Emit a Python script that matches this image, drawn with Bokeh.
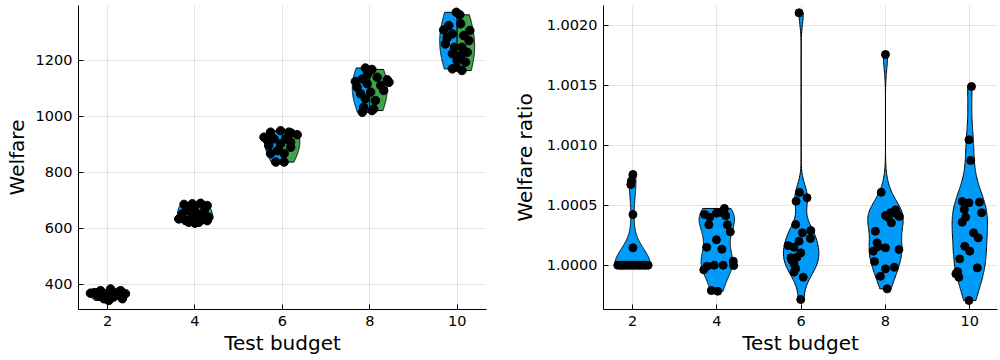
import numpy as np
from bokeh.plotting import figure
from bokeh.layouts import row
from bokeh.models import Range1d, FixedTicker, NumeralTickFormatter
from bokeh.embed import file_html
from bokeh.resources import INLINE

# ---------------- data ----------------
budgets = [2, 4, 6, 8, 10]
x_ticks = [2, 4, 6, 8, 10]
welfare_ticks = [400, 600, 800, 1000, 1200]
ratio_ticks = [1.0, 1.0005, 1.0010, 1.0015, 1.0020]

# Left panel: welfare, two series per budget (blue = left half, green = right half)
welfare_blue = [
    [368, 377, 348, 366, 360, 370, 358, 342],
    [685, 687, 633, 663, 621, 651, 669, 627, 639],
    [948, 943, 925, 919, 895, 866, 836, 913, 877, 901],
    [1172, 1124, 1133, 1116, 1080, 1062, 1032, 1014, 1103, 1139],
    [1371, 1308, 1294, 1246, 1223, 1199, 1169, 1280, 1258, 1330],
]
welfare_blue_jitter = [
    [-0.39, -0.16, -0.08, -0.05, -0.24, -0.30, -0.14, 0.03],
    [-0.25, -0.06, -0.37, -0.17, -0.14, -0.29, -0.02, -0.21, -0.06],
    [-0.04, -0.27, -0.42, -0.19, -0.31, -0.27, -0.15, -0.34, -0.11, -0.04],
    [-0.10, -0.33, -0.17, -0.06, -0.21, -0.10, -0.14, -0.17, -0.29, 0.17],
    [-0.02, -0.31, -0.11, -0.06, -0.11, 0.00, -0.11, -0.23, -0.27, 0.08],
]
welfare_green = [
    [383, 377, 366, 354, 366, 348, 372, 362, 347],
    [689, 681, 651, 639, 621, 627, 661, 639, 618],
    [940, 934, 919, 889, 866, 836, 907, 943],
    [1167, 1130, 1110, 1086, 1092, 1056, 1026, 1020, 1121, 1150],
    [1362, 1324, 1306, 1288, 1246, 1228, 1217, 1193, 1163, 1175, 1270],
]
welfare_green_jitter = [
    [0.07, 0.30, 0.41, 0.14, 0.22, 0.34, 0.25, 0.11, -0.02],
    [0.13, 0.28, 0.05, 0.32, 0.09, 0.28, 0.21, 0.17, 0.00],
    [0.20, 0.34, 0.08, 0.19, 0.04, 0.04, 0.19, 0.15],
    [0.05, 0.40, 0.25, 0.02, 0.32, 0.13, 0.09, 0.05, 0.44, -0.05],
    [0.06, -0.19, 0.29, 0.15, 0.11, 0.23, 0.08, 0.19, 0.11, -0.02, 0.27],
]

# Right panel: welfare ratio per budget
ratio = [
    [1.000756, 1.000700, 1.000672, 1.000422, 1.000145,
     1.0, 1.0, 1.0, 1.0, 1.0, 1.0, 1.0, 1.0, 1.0, 1.0, 1.0, 1.0, 1.0, 1.0, 1.0],
    [1.000423, 1.000400, 1.000337, 1.000433, 1.000439, 1.000473, 1.000412, 1.000337,
     1.000278, 1.000212, 1.000150, 1.000133, 1.000033, 0.999997, 1.000000, 1.000000,
     0.999992, 0.999962, 0.999789, 0.999783],
    [1.002103, 1.000606, 1.000533, 1.000562, 1.000339, 1.000270, 1.000289, 1.000223,
     1.000200, 1.000164, 1.000150, 1.000103, 1.000062, 1.000067, 1.000012, 0.999942,
     0.999900, 0.999714, 1.000042, 0.999972],
    [1.001756, 1.000608, 1.000283, 1.000414, 1.000437, 1.000462, 1.000406, 1.000353,
     1.000187, 1.000117, 1.000145, 1.000131, 1.000031, 0.999970, 0.999983, 0.999908,
     0.999803, 1.000397, 1.000156, 1.000423],
    [1.001489, 1.001045, 1.000873, 1.000531, 1.000520, 1.000525, 1.000464, 1.000437,
     1.000400, 1.000358, 1.000270, 1.000228, 1.000158, 1.000117, 1.000053, 0.999978,
     0.999928, 0.999900, 0.999706, 0.999947],
]
ratio_jitter = [
    [0.01, -0.03, -0.04, 0.01, 0.01,
     -0.35, -0.29, -0.25, -0.19, -0.14, -0.10, -0.04, 0.01, 0.06, 0.12, 0.16, 0.21, 0.27, 0.31, 0.37],
    [-0.29, -0.17, -0.19, -0.01, 0.12, 0.18, 0.21, 0.25, 0.32, -0.01, -0.24, 0.12,
     0.39, 0.40, 0.15, -0.06, -0.23, -0.31, -0.13, 0.02],
    [-0.05, -0.04, -0.12, 0.14, -0.13, 0.03, 0.23, 0.22, -0.05, -0.31, -0.17, -0.01,
     -0.24, -0.10, -0.17, -0.17, 0.05, -0.01, -0.22, -0.13],
    [0.00, -0.10, -0.24, 0.00, 0.12, 0.24, 0.33, 0.14, -0.20, -0.29, 0.00, 0.32,
     -0.26, 0.00, 0.21, -0.12, 0.04, 0.07, -0.17, 0.28],
    [0.04, -0.02, 0.02, -0.18, -0.02, 0.23, -0.13, 0.28, -0.10, -0.18, 0.09, 0.20,
     -0.12, 0.00, -0.24, 0.18, -0.33, -0.26, -0.02, -0.29],
]

BLUE = "#009AF9"
GREEN = "#3DA44D"
FONT = "DejaVu Sans"


# ---------------- helpers ----------------
def silverman(v):
    v = np.asarray(v, float)
    n = len(v)
    sd = np.std(v, ddof=1)
    q25, q75 = np.percentile(v, [25, 75])
    w = min(sd, (q75 - q25) / 1.34)
    if w < 0.3 * sd:
        w = sd
    return 0.9 * w * n ** (-0.2)


def profile(v, bw, npts=200):
    v = np.asarray(v, float)
    grid = np.linspace(v.min(), v.max(), npts)
    dens = np.exp(-0.5 * ((grid[:, None] - v[None, :]) / bw) ** 2).sum(axis=1)
    return grid, dens / dens.max()


def style(p, xlabel, ylabel, ylab_standoff):
    p.outline_line_color = None
    p.background_fill_color = "white"
    p.border_fill_color = "white"
    for ax in (p.xaxis[0], p.yaxis[0]):
        ax.axis_line_color = "black"
        ax.axis_line_width = 1
        ax.major_tick_in = 5
        ax.major_tick_out = 0
        ax.minor_tick_line_color = None
        ax.major_tick_line_color = "black"
        ax.major_label_text_font = FONT
        ax.major_label_text_font_size = "14.5px"
        ax.major_label_text_color = "black"
        ax.axis_label_text_font = FONT
        ax.axis_label_text_font_size = "20px"
        ax.axis_label_text_font_style = "normal"
        ax.axis_label_text_color = "black"
    p.xaxis.major_label_standoff = 6
    p.xaxis.axis_label_standoff = 2
    p.yaxis.major_label_standoff = 6
    p.yaxis.axis_label_standoff = ylab_standoff
    p.xaxis.axis_label = xlabel
    p.yaxis.axis_label = ylabel
    p.xaxis.ticker = FixedTicker(ticks=x_ticks)
    for g in (p.xgrid[0], p.ygrid[0]):
        g.grid_line_color = "black"
        g.grid_line_alpha = 0.1
        g.grid_line_width = 1


# ---------------- left panel ----------------
left = figure(width=498, height=358, output_backend="svg", toolbar_location=None,
              x_range=Range1d(1.336, 10.671), y_range=Range1d(309.6, 1395.3),
              min_border_left=78, min_border_right=12, min_border_top=5, min_border_bottom=49)
style(left, "Test budget", "Welfare", 4)
left.yaxis.ticker = FixedTicker(ticks=welfare_ticks)

HALF_L = 0.40
bxs, bys, gxs, gys = [], [], [], []
for c, va, vb in zip(budgets, welfare_blue, welfare_green):
    g, d = profile(va, 1.8 * np.std(va, ddof=1))
    w = HALF_L * d
    bxs.append(list(c - w) + [c, c])
    bys.append(list(g) + [g[-1], g[0]])
    g, d = profile(vb, 1.8 * np.std(vb, ddof=1))
    w = HALF_L * d
    gxs.append(list(c + w) + [c, c])
    gys.append(list(g) + [g[-1], g[0]])
left.patches(bxs, bys, fill_color=BLUE, line_color="black", line_width=1)
left.patches(gxs, gys, fill_color=GREEN, line_color="black", line_width=1)

dx, dy = [], []
for c, va, ja, vb, jb in zip(budgets, welfare_blue, welfare_blue_jitter,
                             welfare_green, welfare_green_jitter):
    dx += [c + j for j in ja] + [c + j for j in jb]
    dy += list(va) + list(vb)
left.scatter(dx, dy, size=8.5, fill_color="black", line_color="black")

# ---------------- right panel ----------------
right = figure(width=502, height=358, output_backend="svg", toolbar_location=None,
               x_range=Range1d(1.312, 10.657), y_range=Range1d(0.999631, 1.0021642),
               min_border_left=105, min_border_right=3, min_border_top=5, min_border_bottom=49)
style(right, "Test budget", "Welfare ratio", 7)
right.yaxis.ticker = FixedTicker(ticks=ratio_ticks)
right.yaxis.formatter = NumeralTickFormatter(format="0.0000")

HALF_R = 0.42
vxs, vys = [], []
for c, v in zip(budgets, ratio):
    g, d = profile(v, silverman(v))
    w = HALF_R * d
    vxs.append(list(c - w) + list((c + w)[::-1]))
    vys.append(list(g) + list(g[::-1]))
right.patches(vxs, vys, fill_color=BLUE, line_color="black", line_width=1)

rx, ry = [], []
for c, v, j in zip(budgets, ratio, ratio_jitter):
    rx += [c + o for o in j]
    ry += list(v)
right.scatter(rx, ry, size=8, fill_color="black", line_color="black")

p = row(left, right)
open("out.html", "w").write(file_html(p, INLINE))
